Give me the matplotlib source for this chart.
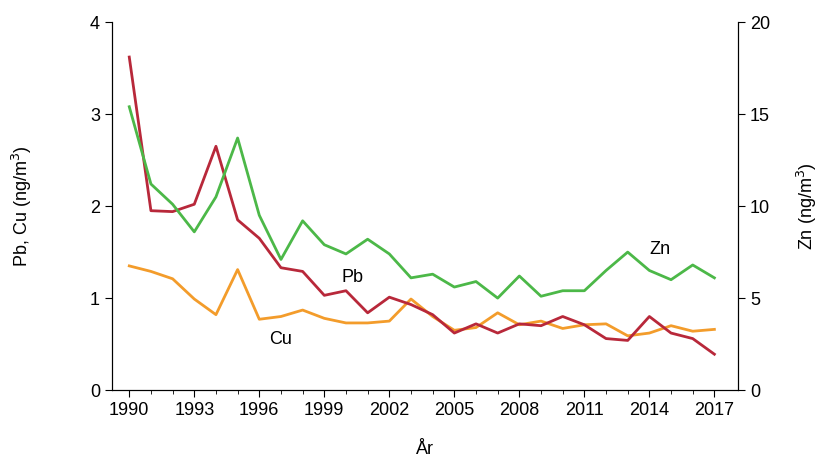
import matplotlib
matplotlib.use("Agg")
import matplotlib.pyplot as plt

plt.rcParams['font.family'] = ['Liberation Sans', 'DejaVu Sans']

years = list(range(1990, 2018))
pb = [3.62, 1.95, 1.94, 2.02, 2.65, 1.85, 1.65, 1.33, 1.29, 1.03, 1.08, 0.84, 1.01, 0.93,
      0.82, 0.62, 0.72, 0.62, 0.72, 0.70, 0.80, 0.71, 0.56, 0.54, 0.80, 0.62, 0.56, 0.39]
cu = [1.35, 1.29, 1.21, 0.99, 0.82, 1.31, 0.77, 0.80, 0.87, 0.78, 0.73, 0.73, 0.75, 0.99,
      0.80, 0.65, 0.68, 0.84, 0.71, 0.75, 0.67, 0.71, 0.72, 0.59, 0.62, 0.70, 0.64, 0.66]
zn = [15.4, 11.2, 10.1, 8.6, 10.5, 13.7, 9.5, 7.1, 9.2, 7.9, 7.4, 8.2, 7.4, 6.1,
      6.3, 5.6, 5.9, 5.0, 6.2, 5.1, 5.4, 5.4, 6.5, 7.5, 6.5, 6.0, 6.8, 6.1]

fig, ax = plt.subplots(figsize=(8.23, 4.70), dpi=100)
fig.subplots_adjust(left=0.136, right=0.897, top=0.953, bottom=0.17)
ax2 = ax.twinx()

ax.plot(years, cu, color='#f39c2b', lw=2)
ax.plot(years, pb, color='#b8283a', lw=2)
ax2.plot(years, zn, color='#4cb848', lw=2)

ax.set_xlim(1989.2, 2018.1)
ax.set_ylim(0, 4)
ax2.set_ylim(0, 20)
ax.set_xticks(range(1990, 2018, 3))
ax.set_xticks(years, minor=True)
ax.set_yticks([0, 1, 2, 3, 4])
ax2.set_yticks([0, 5, 10, 15, 20])

for a in (ax, ax2):
    a.spines['top'].set_visible(False)
    a.tick_params(labelsize=13, direction='out', length=5)
ax.tick_params(which='minor', length=3)

ax.set_ylabel('Pb, Cu (ng/m$^3$)', fontsize=13, labelpad=40)
ax2.set_ylabel('Zn (ng/m$^3$)', fontsize=13, labelpad=18)
ax.set_xlabel('År', fontsize=13, labelpad=16)

ax.text(2000.3, 1.18, 'Pb', fontsize=13, ha='center')
ax.text(1997.0, 0.50, 'Cu', fontsize=13, ha='center')
ax2.text(2014.5, 7.4, 'Zn', fontsize=13, ha='center')

fig.savefig('out.png', dpi=100)
